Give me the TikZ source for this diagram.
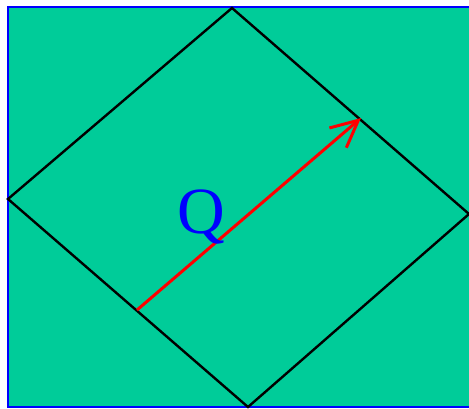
\documentclass[tikz,border=0pt]{standalone}
\usepackage{fontspec}
\setmainfont{Liberation Serif}
\usepackage{xcolor}
\usetikzlibrary{positioning,calc}
\usetikzlibrary{arrows.meta}
\definecolor{fieldgreen}{RGB}{0,204,153}
\tikzstyle{line} = [-{Straight Barb[length=27pt,width=26pt]}]
\tikzstyle{edge} = [line width=2.4pt,line join=miter]

\begin{document}
\begin{tikzpicture}[x=1pt,y=-1pt]
        \useasboundingbox (0,0) rectangle (469,408);
        \fill[fieldgreen] (8,7) rectangle (490,407);
        \draw[blue,line width=1.5pt] (490,7) -- (8,7) -- (8,407) -- (490,407);
        \coordinate (top) at (232,8);
        \coordinate (right) at (469,214);
        \coordinate (bottom) at (248,407);
        \coordinate (left) at (8,199);
        \draw[edge] (top) -- (right) -- (bottom) -- (left) -- cycle;
        \coordinate (tail) at (137,310);
        \coordinate (head) at (361,118);
        \draw[line,red,line width=3pt] (tail) -- (head);
        \node[anchor=base,text=blue,inner sep=0pt,font=\fontsize{66}{66}\selectfont] (q) at (201,233) {Q};
    \end{tikzpicture}
\end{document}
